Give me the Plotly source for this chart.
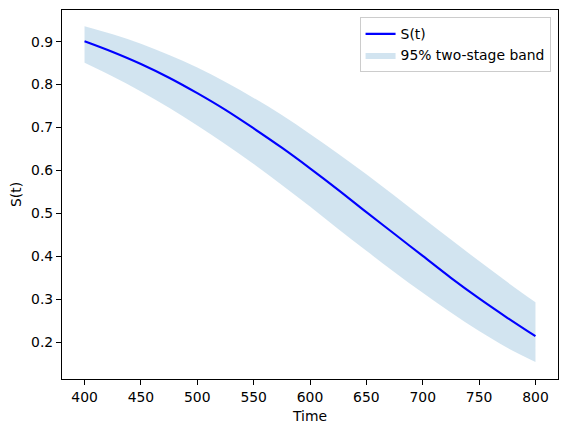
import plotly.graph_objects as go

t = [400, 425, 450, 475, 500, 525, 550, 575, 600, 625, 650, 675, 700, 725, 750, 775, 800]
s_t = [0.901, 0.876, 0.848, 0.816, 0.780, 0.741, 0.698, 0.653, 0.605, 0.555,
       0.503, 0.452, 0.401, 0.350, 0.302, 0.257, 0.214]
band_upper = [0.936, 0.917, 0.895, 0.869, 0.840, 0.806, 0.769, 0.729, 0.685, 0.639,
              0.591, 0.541, 0.490, 0.439, 0.389, 0.340, 0.293]
band_lower = [0.851, 0.819, 0.784, 0.746, 0.705, 0.661, 0.615, 0.566, 0.516, 0.464,
              0.413, 0.363, 0.315, 0.269, 0.226, 0.187, 0.154]

font = "DejaVu Sans, Liberation Sans, sans-serif"
fs = 13.9

fig = go.Figure()
fig.add_trace(go.Scatter(x=t, y=band_lower, mode="lines",
                         line=dict(width=0, color="rgba(31,119,180,0)", shape="spline"),
                         showlegend=False, hoverinfo="skip"))
fig.add_trace(go.Scatter(x=t, y=band_upper, mode="lines",
                         line=dict(width=0, color="rgba(31,119,180,0)", shape="spline"),
                         fill="tonexty", fillcolor="rgba(31,119,180,0.2)",
                         name="95% two-stage band"))
fig.add_trace(go.Scatter(x=t, y=s_t, mode="lines",
                         line=dict(color="#0000ff", width=2.1, shape="spline"),
                         name="S(t)"))

axis_common = dict(showline=True, linecolor="black", linewidth=1.1, mirror=True,
                   ticks="outside", ticklen=5, tickwidth=1.1, tickcolor="black",
                   showgrid=False, zeroline=False,
                   tickfont=dict(family=font, size=fs, color="black"))

fig.update_layout(
    width=567, height=433,
    margin=dict(l=62, r=9, t=10, b=54),
    paper_bgcolor="white", plot_bgcolor="white",
    font=dict(family=font, size=fs, color="black"),
    xaxis=dict(range=[380, 820], tickvals=[400, 450, 500, 550, 600, 650, 700, 750, 800],
               title=dict(text="Time", font=dict(family=font, size=fs), standoff=7), **axis_common),
    yaxis=dict(range=[0.1144, 0.9737], tickvals=[0.2, 0.3, 0.4, 0.5, 0.6, 0.7, 0.8, 0.9],
               tickformat=".1f",
               title=dict(text="S(t)", font=dict(family=font, size=fs), standoff=6), **axis_common),
    legend=dict(x=0.985, y=0.98, xanchor="right", yanchor="top", traceorder="reversed",
                itemwidth=30,
                bgcolor="rgba(255,255,255,0.8)", bordercolor="#cccccc", borderwidth=1,
                font=dict(family=font, size=fs), tracegroupgap=0),
)

fig.write_html("out.html")
